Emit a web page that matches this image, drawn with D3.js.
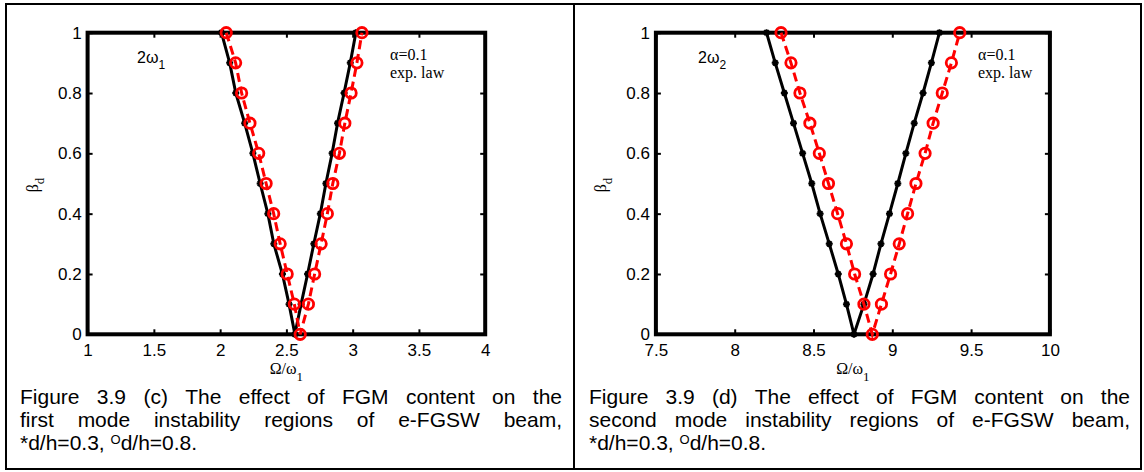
<!DOCTYPE html>
<html>
<head>
<meta charset="utf-8">
<script src="https://cdn.jsdelivr.net/npm/d3@7"></script>
<style>
  html, body { margin: 0; padding: 0; background: #fff; }
  svg { display: block; }
</style>
</head>
<body>
<svg id="chart" width="1144" height="472"></svg>
<script>
// ---------- DATA ----------
const betaValues = [0, 0.1, 0.2, 0.3, 0.4, 0.5, 0.6, 0.7, 0.8, 0.9, 1.0];

// Panel (c): first mode, 2ω1
const c_d03_lower = [2.564, 2.52, 2.47, 2.405, 2.36, 2.302, 2.247, 2.185, 2.118, 2.072, 2.010];
const c_d03_upper = [2.564, 2.611, 2.660, 2.707, 2.756, 2.798, 2.845, 2.886, 2.935, 2.982, 3.024];
const c_d08_lower = [2.604, 2.560, 2.506, 2.453, 2.404, 2.347, 2.291, 2.225, 2.162, 2.117, 2.046];
const c_d08_upper = [2.604, 2.666, 2.713, 2.762, 2.809, 2.850, 2.900, 2.941, 2.988, 3.032, 3.070];

// Panel (d): second mode, 2ω2
const d_d03_lower = [8.757, 8.709, 8.657, 8.600, 8.542, 8.489, 8.431, 8.373, 8.315, 8.257, 8.202];
const d_d03_upper = [8.757, 8.820, 8.878, 8.928, 8.982, 9.035, 9.086, 9.139, 9.195, 9.248, 9.299];
const d_d08_lower = [8.873, 8.820, 8.761, 8.709, 8.653, 8.595, 8.537, 8.477, 8.414, 8.357, 8.294];
const d_d08_upper = [8.873, 8.931, 8.989, 9.044, 9.097, 9.150, 9.208, 9.259, 9.317, 9.375, 9.428];

const c_xTicks = [1, 1.5, 2, 2.5, 3, 3.5, 4];
const c_xTickLabels = ["1", "1.5", "2", "2.5", "3", "3.5", "4"];
const d_xTicks = [7.5, 8, 8.5, 9, 9.5, 10];
const d_xTickLabels = ["7.5", "8", "8.5", "9", "9.5", "10"];
const yTicks = [0, 0.2, 0.4, 0.6, 0.8, 1];
const yTickLabels = ["0", "0.2", "0.4", "0.6", "0.8", "1"];

const captionC = [
  "Figure 3.9 (c) The effect of FGM content on the",
  "first mode instability regions of e-FGSW beam,"
];
const captionD = [
  "Figure 3.9 (d) The effect of FGM content on the",
  "second mode instability regions of e-FGSW beam,"
];
const captionLast = ["*d/h=0.3, ", "O", "d/h=0.8."];

// ---------- LAYOUT ----------
const svg = d3.select("#chart");
const SANS = "'Liberation Sans', Arial, sans-serif";
const SERIF = "'Liberation Serif', 'Times New Roman', serif";

svg.append("rect").attr("x", 6).attr("y", 4).attr("width", 1135).attr("height", 465)
  .attr("fill", "none").attr("stroke", "#000").attr("stroke-width", 2);
svg.append("line").attr("x1", 574).attr("x2", 574).attr("y1", 4).attr("y2", 469)
  .attr("stroke", "#000").attr("stroke-width", 2);

const panels = [
  { left: 87.6, right: 485.2, domain: [1, 4], ticks: c_xTicks, tickLabels: c_xTickLabels,
    black: [c_d03_lower, c_d03_upper], red: [c_d08_lower, c_d08_upper],
    modeSub: "1", modeX: 137, alphaX: 390, ylabX: 38,
    caption: captionC, capL: 20, capR: 562 },
  { left: 655.9, right: 1049.9, domain: [7.5, 10], ticks: d_xTicks, tickLabels: d_xTickLabels,
    black: [d_d03_lower, d_d03_upper], red: [d_d08_lower, d_d08_upper],
    modeSub: "2", modeX: 698, alphaX: 978, ylabX: 606,
    caption: captionD, capL: 589, capR: 1130 }
];

const plotTop = 32.7, plotBottom = 334.3;
const y = d3.scaleLinear().domain([0, 1]).range([plotBottom, plotTop]);

function branchPoints(lower, upper) {
  const pts = [];
  for (let i = betaValues.length - 1; i >= 0; i--) pts.push([lower[i], betaValues[i]]);
  for (let i = 1; i < betaValues.length; i++) pts.push([upper[i], betaValues[i]]);
  return pts;
}

const capFont = 21;
const capFamily = SANS;

function measure(str, size) {
  const t = svg.append("text").attr("font-family", capFamily).attr("font-size", size || capFont)
    .style("white-space", "pre").text(str);
  const w = t.node().getComputedTextLength();
  t.remove();
  return w;
}

panels.forEach(p => {
  const x = d3.scaleLinear().domain(p.domain).range([p.left, p.right]);
  const g = svg.append("g");

  const ax = g.append("g").attr("transform", `translate(0,${plotBottom})`)
    .call(d3.axisBottom(x).tickValues(p.ticks).tickFormat((d, i) => p.tickLabels[i])
      .tickSizeInner(-5).tickSizeOuter(0).tickPadding(10));
  const ayl = g.append("g").attr("transform", `translate(${p.left},0)`)
    .call(d3.axisLeft(y).tickValues(yTicks).tickFormat((d, i) => yTickLabels[i])
      .tickSizeInner(-5).tickSizeOuter(0).tickPadding(6));
  const at = g.append("g").attr("transform", `translate(0,${plotTop})`)
    .call(d3.axisTop(x).tickValues(p.ticks).tickFormat("").tickSizeInner(-5).tickSizeOuter(0));
  const ar = g.append("g").attr("transform", `translate(${p.right},0)`)
    .call(d3.axisRight(y).tickValues(yTicks).tickFormat("").tickSizeInner(-5).tickSizeOuter(0));
  [ax, ayl, at, ar].forEach(a => {
    a.select(".domain").remove();
    a.selectAll(".tick line").attr("stroke", "#000").attr("stroke-width", 2);
    a.selectAll(".tick text").attr("font-family", SANS).attr("font-size", 17).attr("fill", "#000");
  });

  g.append("rect").attr("x", p.left).attr("y", plotTop)
    .attr("width", p.right - p.left).attr("height", plotBottom - plotTop)
    .attr("fill", "none").attr("stroke", "#000").attr("stroke-width", 4);

  const line = d3.line().x(d => x(d[0])).y(d => y(d[1]));

  const bPts = branchPoints(p.black[0], p.black[1]);
  g.append("path").datum(bPts).attr("d", line)
    .attr("fill", "none").attr("stroke", "#000").attr("stroke-width", 3)
    .attr("stroke-linejoin", "round");
  const star = g.append("g").selectAll("g").data(bPts).join("g")
    .attr("transform", d => `translate(${x(d[0])},${y(d[1])})`);
  const s = 3.5;
  star.append("path")
    .attr("d", `M${-s},0L${s},0M0,${-s}L0,${s}M${-s*0.7},${-s*0.7}L${s*0.7},${s*0.7}M${-s*0.7},${s*0.7}L${s*0.7},${-s*0.7}`)
    .attr("stroke", "#000").attr("stroke-width", 2);

  const rPts = branchPoints(p.red[0], p.red[1]);
  g.append("path").datum(rPts).attr("d", line)
    .attr("fill", "none").attr("stroke", "#ff0000").attr("stroke-width", 3)
    .attr("stroke-dasharray", "9,5");
  g.append("g").selectAll("circle").data(rPts).join("circle")
    .attr("cx", d => x(d[0])).attr("cy", d => y(d[1])).attr("r", 5.2)
    .attr("fill", "none").attr("stroke", "#ff0000").attr("stroke-width", 2.8);

  const m = g.append("text").attr("x", p.modeX).attr("y", 63)
    .attr("font-family", SANS).attr("font-size", 16).attr("fill", "#000");
  m.append("tspan").text("2ω");
  m.append("tspan").attr("font-size", 12).attr("dy", 6).text(p.modeSub);

  g.append("text").attr("x", p.alphaX).attr("y", 60)
    .attr("font-family", SERIF).attr("font-size", 16).attr("fill", "#000").text("α=0.1");
  g.append("text").attr("x", p.alphaX).attr("y", 78)
    .attr("font-family", SERIF).attr("font-size", 16).attr("fill", "#000").text("exp. law");

  const xl = g.append("text").attr("x", (p.left + p.right) / 2).attr("y", 374)
    .attr("text-anchor", "middle")
    .attr("font-family", SERIF).attr("font-size", 16).attr("fill", "#000");
  xl.append("tspan").text("Ω/ω");
  xl.append("tspan").attr("font-size", 13).attr("dy", 7).text("1");

  const yl = g.append("text").attr("transform", `translate(${p.ylabX},185) rotate(-90)`)
    .attr("text-anchor", "middle")
    .attr("font-family", SERIF).attr("font-size", 16).attr("fill", "#000");
  yl.append("tspan").text("β");
  yl.append("tspan").attr("font-size", 13).attr("dy", 6).text("d");

  const baselines = [404, 427, 450];
  p.caption.forEach((ln, li) => {
    const words = ln.split(" ");
    const widths = words.map(w => measure(w));
    const total = d3.sum(widths);
    const gap = (p.capR - p.capL - total) / (words.length - 1);
    let cx = p.capL;
    const t = g.append("text").attr("y", baselines[li])
      .attr("font-family", capFamily).attr("font-size", capFont).attr("fill", "#000");
    words.forEach((w, wi) => {
      t.append("tspan").attr("x", cx).text(w + (wi < words.length - 1 ? " " : ""));
      cx += widths[wi] + gap;
    });
  });
  let lx = p.capL;
  const parts = [
    { t: captionLast[0], size: capFont, dy: 0 },
    { t: captionLast[1], size: 13, dy: -6 },
    { t: captionLast[2], size: capFont, dy: 0 }
  ];
  parts.forEach(pt => {
    g.append("text")
      .attr("x", lx).attr("y", baselines[2] + pt.dy)
      .attr("font-family", capFamily).attr("font-size", pt.size).attr("fill", "#000")
      .style("white-space", "pre")
      .text(pt.t);
    lx += measure(pt.t, pt.size);
  });
});
</script>
</body>
</html>
